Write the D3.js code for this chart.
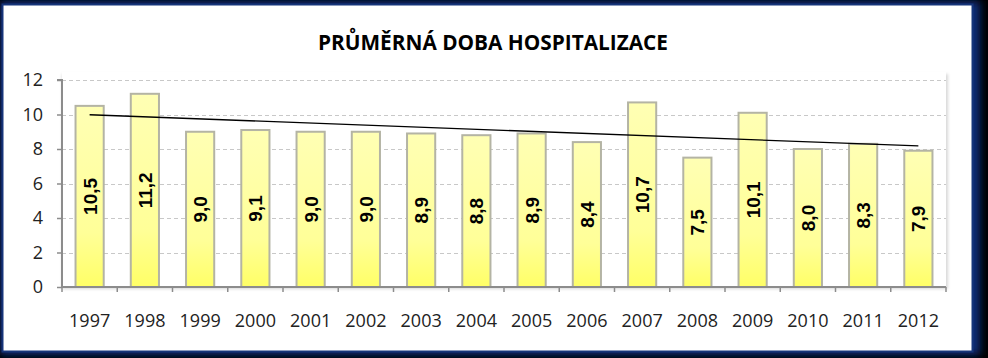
<!DOCTYPE html>
<html><head><meta charset="utf-8">
<script src="https://cdn.jsdelivr.net/npm/d3@7"></script>
<style>html,body{margin:0;padding:0;background:#000;}svg{display:block;}</style>
</head><body>
<svg id="c" width="988" height="358"></svg>
<script>
const years = ["1997","1998","1999","2000","2001","2002","2003","2004","2005","2006","2007","2008","2009","2010","2011","2012"];
const values = [10.5,11.2,9.0,9.1,9.0,9.0,8.9,8.8,8.9,8.4,10.7,7.5,10.1,8.0,8.3,7.9];
const yTicks = [0,2,4,6,8,10,12];
const title = "PRŮMĚRNÁ DOBA HOSPITALIZACE";

const svg = d3.select("#c");
const defs = svg.append("defs");
const blur = defs.append("filter").attr("id","glow").attr("x","-5%").attr("y","-10%").attr("width","110%").attr("height","120%");
blur.append("feGaussianBlur").attr("stdDeviation",4);
const g1 = defs.append("linearGradient").attr("id","barg").attr("x1",0).attr("y1",0).attr("x2",0).attr("y2",1);
g1.append("stop").attr("offset","0%").attr("stop-color","#ffffb4");
g1.append("stop").attr("offset","70%").attr("stop-color","#ffff98");
g1.append("stop").attr("offset","100%").attr("stop-color","#ffff66");
const sh = defs.append("filter").attr("id","psh").attr("x","-5%").attr("y","-5%").attr("width","110%").attr("height","110%");
sh.append("feGaussianBlur").attr("stdDeviation",1.5);

// frame
svg.append("rect").attr("x",0).attr("y",1).attr("width",980).attr("height",354).attr("fill","#0d2f7a").attr("filter","url(#glow)");
svg.append("rect").attr("x",2.5).attr("y",4.5).attr("width",970).attr("height",347).attr("fill","#fff").attr("stroke","#16357a").attr("stroke-width",2);

const L = 62, R = 946, T = 80, B = 287;
const x = d3.scaleBand().domain(years).range([L,R]).paddingInner(0.49).paddingOuter(0.245);
const y = d3.scaleLinear().domain([0,12]).range([B,T]);

// plot area shadow
svg.append("rect").attr("x",L).attr("y",T-6).attr("width",R-L+2).attr("height",B-T+8).attr("fill","#d8d8d8").attr("filter","url(#psh)");
svg.append("rect").attr("x",L).attr("y",T-8).attr("width",R-L).attr("height",B-T+8).attr("fill","#fff");

// gridlines
svg.append("g").selectAll("line").data(yTicks.filter(d=>d>0)).join("line")
  .attr("x1",L).attr("x2",R).attr("y1",d=>Math.round(y(d))+0.5).attr("y2",d=>Math.round(y(d))+0.5)
  .attr("stroke","#c8c8c8").attr("stroke-width",1).attr("stroke-dasharray","4,3");

// bars
svg.append("g").selectAll("rect").data(values).join("rect")
  .attr("x",(d,i)=>x(years[i])).attr("width",x.bandwidth())
  .attr("y",d=>y(d)).attr("height",d=>B-y(d))
  .attr("fill","url(#barg)").attr("stroke","#b4b4a4").attr("stroke-width",2);

// trendline (least squares)
const n = values.length, mx = (n-1)/2, my = d3.mean(values);
let sxy=0, sxx=0; values.forEach((v,i)=>{sxy+=(i-mx)*(v-my); sxx+=(i-mx)*(i-mx);});
const slope = sxy/sxx, icpt = my - slope*mx;
const cx = i => x(years[i]) + x.bandwidth()/2;
svg.append("line").attr("x1",cx(0)).attr("y1",y(icpt)).attr("x2",cx(n-1)).attr("y2",y(icpt+slope*(n-1)))
  .attr("stroke","#000").attr("stroke-width",1.3);

// value labels
svg.append("g").selectAll("text").data(values).join("text")
  .attr("transform",(d,i)=>`translate(${cx(i)+7},${(y(d)+B)/2}) rotate(-90)`)
  .attr("text-anchor","middle")
  .attr("font-family","Liberation Sans, Arial, sans-serif").attr("font-weight","bold").attr("font-size",19)
  .attr("fill","#000")
  .text(d=>d.toFixed(1).replace(".",","));

// axes
const axC = "#8c8c8c";
const yAxis = svg.append("g").attr("transform",`translate(${L},0)`)
  .call(d3.axisLeft(y).tickValues(yTicks).tickSize(5).tickPadding(14).tickFormat(d=>d));
const xAxis = svg.append("g").attr("transform",`translate(0,${B})`)
  .call(d3.axisBottom(x).tickSize(0).tickPadding(27));
[yAxis,xAxis].forEach(a=>{
  a.select(".domain").attr("stroke",axC).attr("stroke-width",2);
  a.selectAll(".tick line").attr("stroke",axC).attr("stroke-width",1.5);
  a.selectAll("text").attr("font-family","Open Sans, sans-serif").attr("font-size",18).attr("fill","#222");
});
yAxis.select(".domain").attr("d",`M-5,${T}H0V${B}`);
xAxis.select(".domain").attr("d",`M${L},0H${R}`);
// x boundary ticks
const bounds = d3.range(n+1).map(i=> i<n ? x(years[i]) - x.step()*x.paddingInner()/2 : R);
bounds[0]=L;
xAxis.append("g").selectAll("line").data(bounds).join("line")
  .attr("x1",d=>d).attr("x2",d=>d).attr("y1",0).attr("y2",5).attr("stroke",axC).attr("stroke-width",1.5);

// title
svg.append("text").attr("x",493).attr("y",50).attr("text-anchor","middle")
  .attr("font-family","Open Sans, sans-serif").attr("font-weight","bold").attr("font-size",20.8).attr("fill","#000")
  .text(title);
</script>
</body></html>
